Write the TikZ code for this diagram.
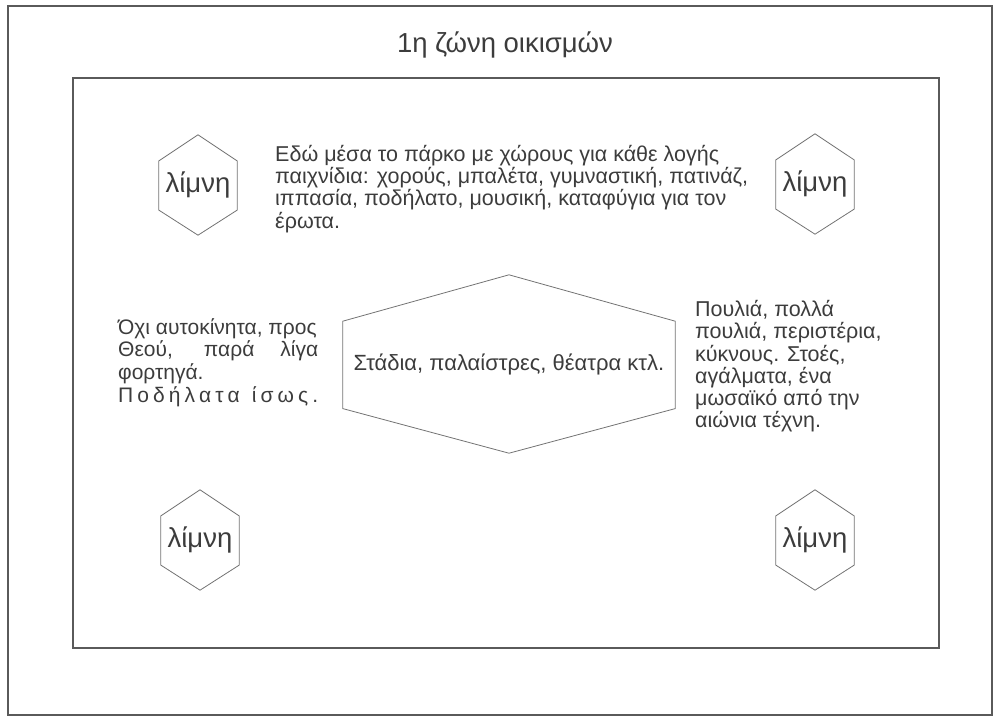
\documentclass[tikz,border=0pt]{standalone}
\usepackage{fontspec}
\setmainfont{Liberation Sans}
\usetikzlibrary{positioning,calc}

\definecolor{ink}{HTML}{3C3C3C}
\definecolor{rule}{HTML}{5A5A5A}

\begin{document}
\begin{tikzpicture}[x=1pt, y=-1pt,
    frame/.style={draw=rule, line width=1.6pt},
    hex/.style={draw=rule!85, line width=0.8pt, line join=miter},
    lake/.style={minimum width=78pt, minimum height=100pt, inner sep=0pt, text=ink, font=\fontsize{27.5}{30}\selectfont},
    hub/.style={minimum width=332pt, minimum height=178pt, inner sep=0pt, text=ink, font=\fontsize{22}{24}\selectfont},
    note/.style={anchor=north west, inner sep=0pt, align=left, text=ink, font=\fontsize{21.5}{22.3}\selectfont}
]
    \useasboundingbox (0,0) rectangle (993,717);

    % page frame and the zone
    \draw[frame] (8,6) rectangle (992,715);
    \draw[frame] (73,78) rectangle (939,648);
    \node[text=ink, font=\fontsize{27.5}{30}\selectfont] (title) at (505,45) {1η ζώνη οικισμών};

    % lakes in the corners
    \node[lake] (lakeNW) at (198,185) {λίμνη};
    \node[lake] (lakeNE) at (815,184) {λίμνη};
    \node[lake] (lakeSW) at (200,540) {λίμνη};
    \node[lake] (lakeSE) at (815,540) {λίμνη};
    \node[hub] (stadia) at (509,364) {Στάδια, παλαίστρες, θέατρα κτλ.};

    \foreach \n in {lakeNW,lakeNE,lakeSW,lakeSE,stadia}
        \draw[hex] (\n.north) -- ($(\n.north west)!.26!(\n.south west)$)
            -- ($(\n.north west)!.75!(\n.south west)$) -- (\n.south)
            -- ($(\n.north east)!.75!(\n.south east)$)
            -- ($(\n.north east)!.26!(\n.south east)$) -- cycle;

    % texts
    \node[note] (park) at (275,145) {Εδώ μέσα το πάρκο με χώρους για κάθε λογής\\
        παιχνίδια: χορούς, μπαλέτα, γυμναστική, πατινάζ,\\
        ιππασία, ποδήλατο, μουσική, καταφύγια για τον\\
        έρωτα.};
    \node[note, font=\fontsize{21}{22.7}\selectfont] (cars) at (118,318) {Όχι αυτοκίνητα, προς\\
        \makebox[200pt][s]{Θεού, παρά λίγα}\\
        φορτηγά.\\
        \makebox[200pt][s]{Π ο δ ή λ α τ α \ \ ί σ ω ς .}};
    \node[note] (birds) at (695,300) {Πουλιά, πολλά\\
        πουλιά, περιστέρια,\\
        κύκνους. Στοές,\\
        αγάλματα, ένα\\
        μωσαϊκό από την\\
        αιώνια τέχνη.};
\end{tikzpicture}
\end{document}
